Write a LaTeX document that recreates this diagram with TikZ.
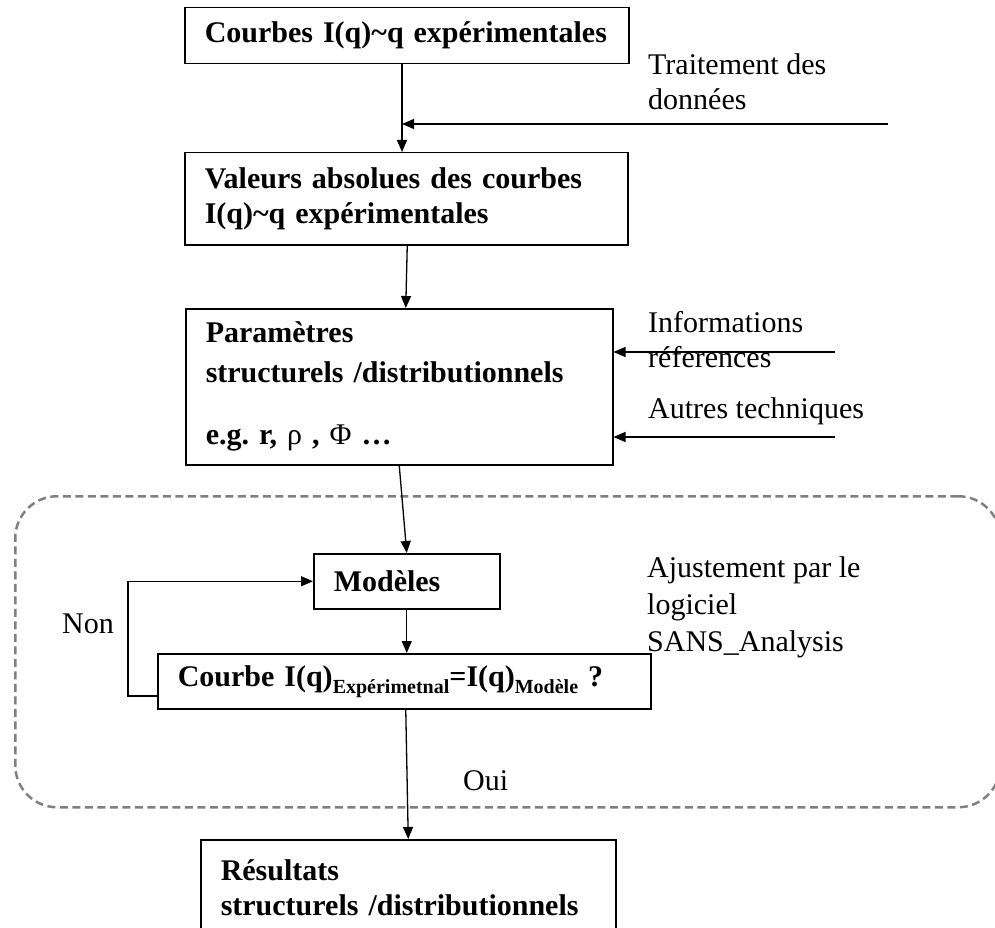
\documentclass[tikz,border=0pt]{standalone}
\usepackage{fontspec}
\setmainfont{Liberation Serif}
\usetikzlibrary{arrows.meta}
\frenchspacing
\begin{document}
\begin{tikzpicture}[x=1pt,y=-1pt,
  box/.style={draw, line width=1.5pt, anchor=north west, align=left,
    inner xsep=20pt, inner ysep=0pt,
    font=\bfseries\fontsize{30}{35}\selectfont},
  note/.style={anchor=base west, align=left, inner sep=0pt,
    font=\fontsize{30}{35}\selectfont},
  arr/.style={line width=1.3pt, -{Triangle[length=12pt,width=10pt]}},
  frame/.style={draw=black!50, line width=2.5pt, dash pattern=on 8pt off 4.5pt,
    rounded corners=42pt, anchor=north west, inner sep=0pt}]
\path[use as bounding box, clip] (0,0) rectangle (995,928);

% fitting group
\node[frame, minimum width=985pt, minimum height=311pt] (grp) at (14,495) {};

% main chain
\node[box, text width=404pt, minimum height=56pt] (b1) at (184,7)
  {Courbes I(q)\textasciitilde q expérimentales};
\node[box, text width=403pt, minimum height=92pt] (b2) at (184,152)
  {Valeurs absolues des courbes\\ I(q)\textasciitilde q expérimentales};
\node[box, text width=387pt, minimum height=156pt] (b3) at (185,308)
  {Paramètres\\[5pt] structurels /distributionnels\\[27pt]
   e.g. r, {\mdseries ρ} , {\mdseries Φ} …};
\node[box, text width=146pt, minimum height=55pt] (mod) at (313,553)
  {Modèles};
\node[box, text width=453pt, minimum height=55pt] (cb) at (157,653)
  {Courbe I(q)\raisebox{-7pt}{\fontsize{20}{20}\selectfont Expérimetnal}=I(q)\raisebox{-7pt}{\fontsize{20}{20}\selectfont Modèle} ?};
\node[box, text width=375pt, minimum height=97pt] (res) at (200,839)
  {Résultats\\ structurels /distributionnels};

% side labels (base = baseline of the last line)
\node[note] (tr) at (648,110) {Traitement des\\ données};
\node[note] (inf) at (648,367) {Informations\\ réferences};
\node[note] (aut) at (648,418) {Autres techniques};
\node[note] (aju) at (647,651) {Ajustement par le\\[2pt] logiciel\\[2pt] SANS\_Analysis};
\node[note] (non) at (62,633) {Non};
\node[note] (oui) at (463,790) {Oui};

% connectors
\coordinate (j1) at (402,124);
\coordinate (in1) at (888,124);
\draw[arr] (b1.south -| j1) -- (b2.north -| j1);
\draw[arr] (in1) -- (j1);

\draw[arr] ([xshift=1pt]b2.south) -- ([xshift=6.5pt]b3.north);

\coordinate (in2) at (835,352);
\coordinate (in3) at (835,437);
\draw[arr] (in2) -- (b3.east |- in2);
\draw[arr] (in3) -- (b3.east |- in3);

\draw[arr] (b3.south) -- (mod.north);
\draw[arr] (mod.south) -- ([xshift=2.5pt]cb.north);

\coordinate (lp) at (128,696);
\draw[arr] (cb.west |- lp) -- (lp) |- (mod.west);

\draw[arr] ([xshift=1.5pt]cb.south) -- (res.north);
\end{tikzpicture}
\end{document}
